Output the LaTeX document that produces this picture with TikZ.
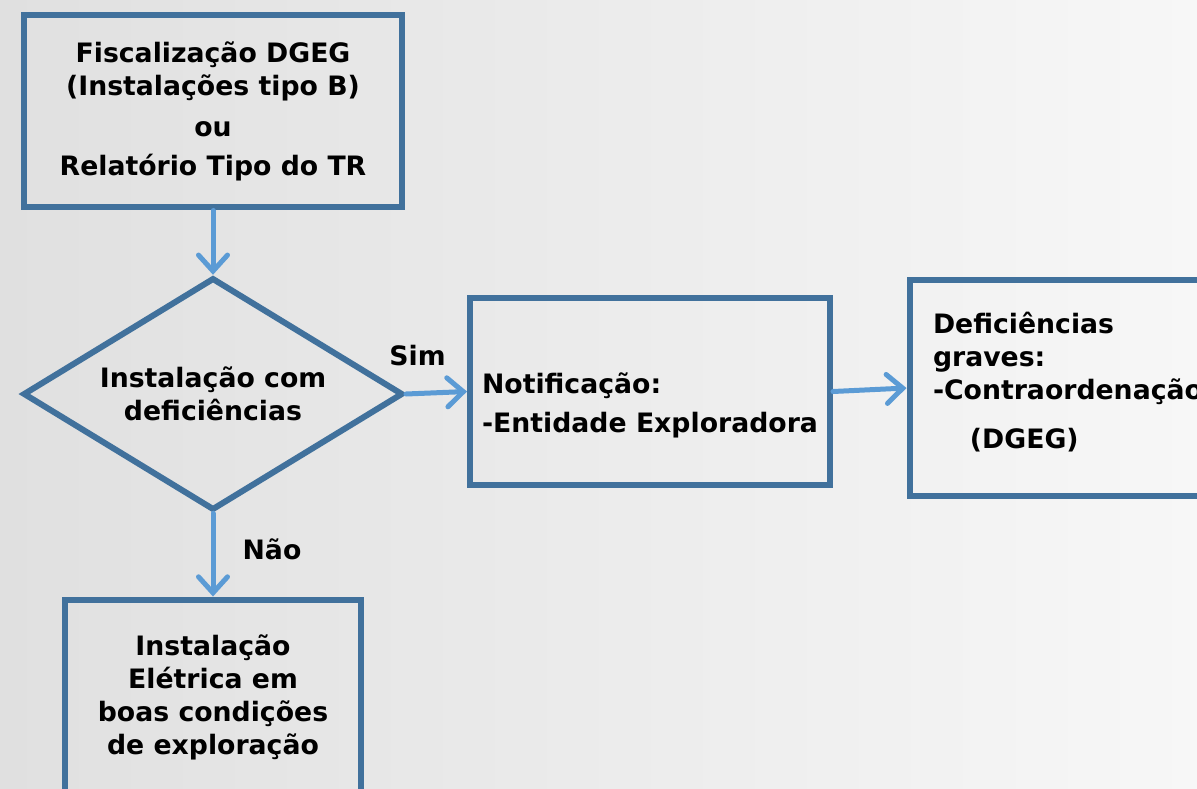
\documentclass[tikz,border=0pt]{standalone}
\usepackage{fontspec}
\setmainfont{DejaVu Sans}
\usepackage{tikz}
\usetikzlibrary{positioning, shapes.geometric, arrows.meta}
\definecolor{boxblue}{HTML}{41719C}
\definecolor{arrowblue}{HTML}{5B9BD5}
\definecolor{bgleft}{HTML}{E0E0E0}
\definecolor{bgright}{HTML}{F7F7F7}

\begin{document}
\begin{tikzpicture}[
        x=0.02cm, y=-0.02cm,
        every node/.style={font=\fontsize{15.2}{18.8}\selectfont\bfseries},
        box/.style={rectangle,draw=boxblue,line width=0.12cm},
        dec/.style={diamond,draw=boxblue,line width=0.12cm,align=center,inner sep=0pt,aspect=1.64},
        flow/.style={draw=arrowblue,line width=0.1cm,line cap=round,
          -{Straight Barb[length=0.32cm,width=0.58cm,line cap=round]}}
      ]
      \clip (0,0) rectangle (1197,788);
      \shade[left color=bgleft,right color=bgright] (0,0) rectangle (1197,788);
      \node[box,align=center,minimum width=7.56cm,minimum height=3.86cm] (insp) at (213,111)
        {Fiscalização DGEG\\(Instalações tipo B)\\[5pt]ou\\[3pt]Relatório Tipo do TR};
      \node[dec,minimum width=7.6cm,minimum height=4.65cm] (dia) at (213,394)
        {Instalação com\\deficiências};
      \node[box,align=left,minimum width=7.2cm,minimum height=3.76cm,text height=1.74cm] (note) at (650,391.5)
        {Notificação:\\[3pt]-Entidade Exploradora};
      \node[box,anchor=west,align=left,minimum height=4.34cm,inner xsep=0.47cm,text width=6.5cm,
            text height=0.41cm,text depth=2.6cm] (grave) at (906.5,388)
        {Deficiências\\graves:\\-Contraordenação\\[9pt]\hspace*{0.74cm}(DGEG)};
      \node[box,align=center,minimum width=5.94cm,minimum height=3.92cm] (ok) at (213,697.5)
        {Instalação\\Elétrica em\\boas condições\\de exploração};
      \draw[flow] (insp.south) -- (dia.north);
      \draw[flow] (dia.east) -- node[pos=0.19,yshift=0.76cm]{Sim} (note.west);
      \draw[flow] (note.east) -- (grave.west);
      \draw[flow] (dia.south) -- node[pos=0.43,xshift=1.18cm]{Não} (ok.north);
    \end{tikzpicture}
\end{document}
